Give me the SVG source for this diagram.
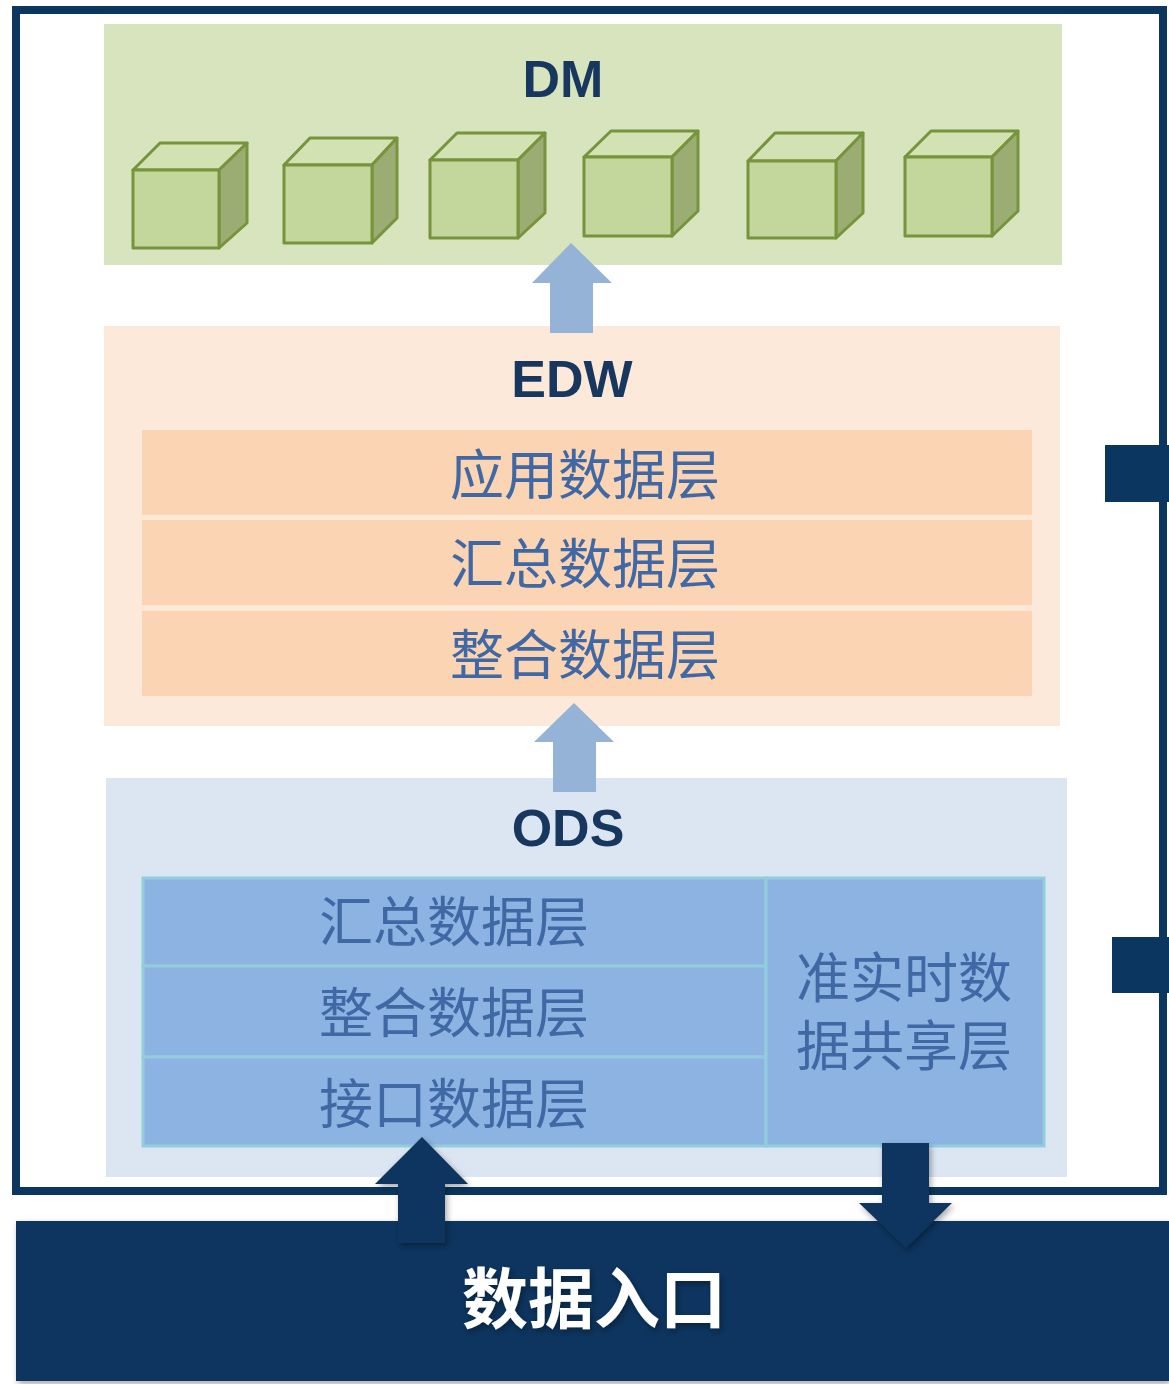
<svg xmlns="http://www.w3.org/2000/svg" width="1169" height="1384" viewBox="0 0 1169 1384">
<defs>
<style>
.title{font-family:"Liberation Sans",Arial,sans-serif;font-weight:bold;font-size:52px;fill:#17375e;text-anchor:middle}
.cn{font-family:"Noto Sans CJK SC","Noto Sans",sans-serif;font-size:54px;fill:#4068a4;text-anchor:middle}
.front{fill:#c3d69b;stroke:#77933c;stroke-width:3;stroke-linejoin:round}
.top{fill:#d2e2b3;stroke:#77933c;stroke-width:3;stroke-linejoin:round}
.side{fill:#9bad73;stroke:#77933c;stroke-width:3;stroke-linejoin:round}
.erow{fill:#fbd4b4}
.ocell{fill:#8db3e2;stroke:#92cddc;stroke-width:3}
.navy{fill:#0b365f}
.larrow{fill:#95b3d7}
</style>
<filter id="sh" x="-20%" y="-20%" width="140%" height="140%">
<feDropShadow dx="2" dy="3" stdDeviation="3" flood-color="#000" flood-opacity="0.35"/>
</filter>
</defs>
<rect width="1169" height="1384" fill="#ffffff"/>
<rect id="frame" x="16" y="10" width="1147" height="1181" fill="none" stroke="#0b365f" stroke-width="8"/>

<g id="dm">
<rect x="104" y="24" width="958" height="241" fill="#d7e4bd"/>
<text class="title" x="563" y="97" font-size="54">DM</text>
<g id="cube1">
<polygon class="top" points="133,170 160,143 247,143 219,170"/>
<polygon class="side" points="219,170 247,143 247,223 219,248"/>
<rect class="front" x="133" y="170" width="86" height="78"/>
</g>
<g id="cube2">
<polygon class="top" points="284,165 310,138 397,138 372,165"/>
<polygon class="side" points="372,165 397,138 397,218 372,243"/>
<rect class="front" x="284" y="165" width="88" height="78"/>
</g>
<g id="cube3">
<polygon class="top" points="430,160 457,133 545,133 518,160"/>
<polygon class="side" points="518,160 545,133 545,213 518,238"/>
<rect class="front" x="430" y="160" width="88" height="78"/>
</g>
<g id="cube4">
<polygon class="top" points="584,157 611,131 698,131 672,157"/>
<polygon class="side" points="672,157 698,131 698,211 672,236"/>
<rect class="front" x="584" y="157" width="88" height="79"/>
</g>
<g id="cube5">
<polygon class="top" points="748,161 775,133 863,133 836,161"/>
<polygon class="side" points="836,161 863,133 863,213 836,238"/>
<rect class="front" x="748" y="161" width="88" height="77"/>
</g>
<g id="cube6">
<polygon class="top" points="905,157 931,131 1018,131 992,157"/>
<polygon class="side" points="992,157 1018,131 1018,211 992,236"/>
<rect class="front" x="905" y="157" width="87" height="79"/>
</g>
</g>

<g id="edw">
<rect x="104" y="326" width="956" height="400" fill="#fde9d9"/>
<text class="title" x="572" y="397">EDW</text>
<g id="edw-app"><rect class="erow" x="142" y="430" width="890" height="85"/><text class="cn" x="585" y="495">应用数据层</text></g>
<g id="edw-sum"><rect class="erow" x="142" y="520" width="890" height="85"/><text class="cn" x="585" y="584">汇总数据层</text></g>
<g id="edw-int"><rect class="erow" x="142" y="611" width="890" height="85"/><text class="cn" x="585" y="675">整合数据层</text></g>
</g>

<g id="ods">
<rect x="106" y="778" width="961" height="399" fill="#dce6f2"/>
<text class="title" x="568" y="846">ODS</text>
<g id="ods-sum"><rect class="ocell" x="143" y="878" width="623" height="88"/><text class="cn" x="454" y="942">汇总数据层</text></g>
<g id="ods-int"><rect class="ocell" x="143" y="966" width="623" height="91"/><text class="cn" x="454" y="1033">整合数据层</text></g>
<g id="ods-if"><rect class="ocell" x="143" y="1057" width="623" height="89"/><text class="cn" x="454" y="1124">接口数据层</text></g>
<g id="ods-rt"><rect class="ocell" x="766" y="878" width="278" height="268"/><text class="cn" x="904" y="998"><tspan x="904" y="998">准实时数</tspan><tspan x="904" y="1066">据共享层</tspan></text></g>
</g>

<g id="tabs">
<rect class="navy" x="1105" y="445" width="64" height="57"/>
<rect class="navy" x="1112" y="937" width="57" height="56"/>
</g>

<g id="entry">
<rect class="navy" x="16" y="1221" width="1153" height="160" filter="url(#sh)"/>
<text x="594" y="1323" font-family="Noto Sans CJK SC,sans-serif" font-weight="bold" font-size="66" fill="#ffffff" text-anchor="middle" filter="url(#sh)">数据入口</text>
</g>

<g id="connectors">
<polygon class="larrow" points="571,243 612,283 593,283 593,333 550,333 550,283 532,283"/>
<polygon class="larrow" points="574,703 614,742 596,742 596,792 553,792 553,742 534,742"/>
<polygon class="navy" filter="url(#sh)" points="422,1137 468,1184 445,1184 445,1243 398,1243 398,1184 375,1184"/>
<polygon class="navy" filter="url(#sh)" points="882,1143 929,1143 929,1203 952,1203 906,1248 859,1203 882,1203"/>
</g>
</svg>
